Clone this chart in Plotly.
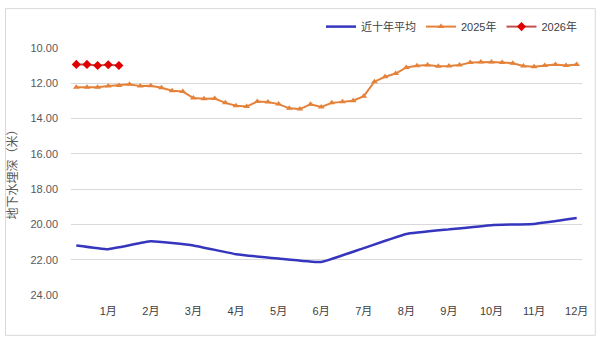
import plotly.graph_objects as go

# ---- data ----
month_labels = ["1月", "2月", "3月", "4月", "5月", "6月", "7月", "8月", "9月", "10月", "11月", "12月"]
month_pos = [3, 7, 11, 15, 19, 23, 27, 31, 35, 39, 43, 47]

avg_x = [0, 3, 7, 11, 15, 19, 23, 27, 31, 35, 39, 43, 47]
avg_10yr = [21.19, 21.40, 20.96, 21.19, 21.69, 21.93, 22.13, 21.34, 20.54, 20.28, 20.04, 19.97, 19.64]

y2025 = [12.22, 12.22, 12.23, 12.16, 12.12, 12.05, 12.16, 12.14, 12.25, 12.42,
         12.47, 12.84, 12.88, 12.86, 13.11, 13.27, 13.32, 13.03, 13.06, 13.18,
         13.42, 13.46, 13.19, 13.34, 13.11, 13.04, 12.99, 12.73, 11.91, 11.63,
         11.45, 11.10, 11.01, 10.97, 11.04, 11.02, 10.97, 10.82, 10.80, 10.79,
         10.82, 10.86, 11.02, 11.06, 10.99, 10.93, 10.99, 10.93]
x2025 = list(range(len(y2025)))

y2026 = [10.93, 10.93, 10.99, 10.95, 10.99]
x2026 = list(range(len(y2026)))

y_ticks = [10, 12, 14, 16, 18, 20, 22, 24]

FONT = "Liberation Sans, Arial, Noto Sans CJK SC, sans-serif"

fig = go.Figure()
fig.add_trace(go.Scatter(
    x=avg_x, y=avg_10yr, mode="lines", name="近十年平均",
    line=dict(color="#3535BE", width=2.5, shape="spline", smoothing=0.3)))
fig.add_trace(go.Scatter(
    x=x2025, y=y2025, mode="lines+markers", name="2025年",
    line=dict(color="#E5823A", width=2),
    marker=dict(symbol="triangle-up", size=6, color="#E5823A")))
fig.add_trace(go.Scatter(
    x=x2026, y=y2026, mode="lines+markers", name="2026年",
    line=dict(color="#C0504D", width=2),
    marker=dict(symbol="diamond", size=7, color="#E00000")))

L, R, T, B = 67, 14, 41, 42
W, H = 600, 337
pw, ph = W - L - R, H - T - B

fig.update_layout(
    width=W, height=H,
    margin=dict(l=L, r=R, t=T, b=B),
    paper_bgcolor="white", plot_bgcolor="white",
    font=dict(family=FONT, size=11, color="#595959"),
    showlegend=True,
    legend=dict(orientation="h", x=1.0, xanchor="right",
                y=(ph + T - 19) / ph, yanchor="middle",
                font=dict(size=11, color="#404040"),
                itemwidth=30, tracegroupgap=0,
                bgcolor="rgba(0,0,0,0)"),
    xaxis=dict(range=[-0.5, 47.5], tickmode="array", tickvals=month_pos,
               ticktext=month_labels, showgrid=False, zeroline=False,
               showline=False, ticks="", ticklabelstandoff=8,
               tickfont=dict(size=11, color="#404040")),
    yaxis=dict(range=[24, 10], tickmode="array", tickvals=y_ticks,
               tickformat=".2f", showgrid=True, gridcolor="#D9D9D9",
               gridwidth=1, zeroline=False, showline=False, ticks="",
               ticklabelstandoff=12,
               title=dict(text="地下水埋深（米）", standoff=10,
                          font=dict(size=12, color="#595959")),
               tickfont=dict(size=11, color="#595959")),
    shapes=[dict(type="rect", xref="paper", yref="paper",
                 x0=(0.5 - L) / pw, x1=(W - 0.5 - L) / pw,
                 y0=(T + ph - (H - 0.5)) / ph, y1=(T + ph - 0.5) / ph,
                 line=dict(color="#D9D9D9", width=1), layer="below")],
)

fig.write_html("out.html")
